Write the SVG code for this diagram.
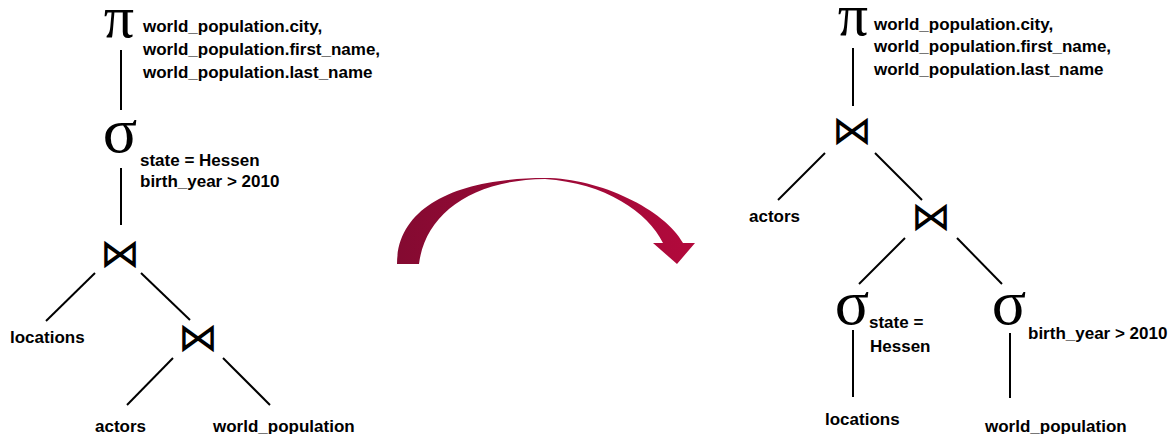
<svg xmlns="http://www.w3.org/2000/svg" width="1170" height="434" viewBox="0 0 1170 434">
<defs>
<style>
.lbl{font-family:"Liberation Sans",Arial,Helvetica,sans-serif;font-weight:bold;font-size:17px;fill:#000}
.sym{font-family:"Liberation Serif","Times New Roman",serif;font-size:64px;fill:#000;text-anchor:middle}
.pi{font-size:60px}
.join{font-family:"DejaVu Sans",sans-serif;font-weight:200;font-size:40px;fill:#000;text-anchor:middle}
.edge{stroke:#000;stroke-width:2;fill:none}
</style>
<linearGradient id="arrowGrad" x1="397" y1="0" x2="695" y2="0" gradientUnits="userSpaceOnUse">
<stop offset="0" stop-color="#840a31"/>
<stop offset="1" stop-color="#b3093c"/>
</linearGradient>
</defs>
<rect width="1170" height="434" fill="#fff"/>
<g id="connectors">
<line class="edge" x1="121" y1="50" x2="121" y2="110"/>
<line class="edge" x1="121" y1="168" x2="121" y2="225"/>
<line class="edge" x1="95" y1="273" x2="46" y2="321"/>
<line class="edge" x1="141" y1="273" x2="190" y2="320"/>
<line class="edge" x1="173" y1="358" x2="127" y2="405"/>
<line class="edge" x1="223" y1="358" x2="270" y2="405"/>
<line class="edge" x1="853" y1="48" x2="853" y2="106"/>
<line class="edge" x1="825" y1="153" x2="778" y2="200"/>
<line class="edge" x1="875" y1="153" x2="922" y2="200"/>
<line class="edge" x1="905" y1="238" x2="859" y2="284"/>
<line class="edge" x1="957" y1="238" x2="1002" y2="284"/>
<line class="edge" x1="853" y1="330" x2="853" y2="397"/>
<line class="edge" x1="1010" y1="333" x2="1010" y2="398"/>
</g>
<g id="arrow">
<path fill="url(#arrowGrad)" d="M397,264 C397,205 460,178 545,178 C600,178 665,210 683,243 L695,243 L677,264 L653,243 L663,243 C648,212 605,183 545,179 C470,180 425,215 419,264 Z"/>
</g>
<g id="left-projection">
<text class="sym pi" x="119" y="37">π</text>
<text class="lbl" x="143" y="32">world_population.city,</text>
<text class="lbl" x="143" y="55">world_population.first_name,</text>
<text class="lbl" x="143" y="78">world_population.last_name</text>
</g>
<g id="left-selection">
<text class="sym" x="120" y="152">σ</text>
<text class="lbl" x="140" y="166">state = Hessen</text>
<text class="lbl" x="140" y="187">birth_year &gt; 2010</text>
</g>
<g id="left-join1"><text class="join" x="120" y="267">⋈</text></g>
<g id="left-locations"><text class="lbl" x="10" y="343">locations</text></g>
<g id="left-join2"><text class="join" x="198" y="351">⋈</text></g>
<g id="left-actors"><text class="lbl" x="95" y="432">actors</text></g>
<g id="left-world-population"><text class="lbl" x="213" y="432">world_population</text></g>
<g id="right-projection">
<text class="sym pi" x="853" y="35">π</text>
<text class="lbl" x="874" y="30">world_population.city,</text>
<text class="lbl" x="874" y="52">world_population.first_name,</text>
<text class="lbl" x="874" y="75">world_population.last_name</text>
</g>
<g id="right-join1"><text class="join" x="852" y="144">⋈</text></g>
<g id="right-actors"><text class="lbl" x="749" y="222">actors</text></g>
<g id="right-join2"><text class="join" x="931" y="230">⋈</text></g>
<g id="right-selection-state">
<text class="sym" x="852" y="324">σ</text>
<text class="lbl" x="869" y="328">state =</text>
<text class="lbl" x="870" y="352">Hessen</text>
</g>
<g id="right-selection-year">
<text class="sym" x="1009" y="324">σ</text>
<text class="lbl" x="1028" y="339">birth_year &gt; 2010</text>
</g>
<g id="right-locations"><text class="lbl" x="825" y="425">locations</text></g>
<g id="right-world-population"><text class="lbl" x="985" y="432">world_population</text></g>
</svg>
